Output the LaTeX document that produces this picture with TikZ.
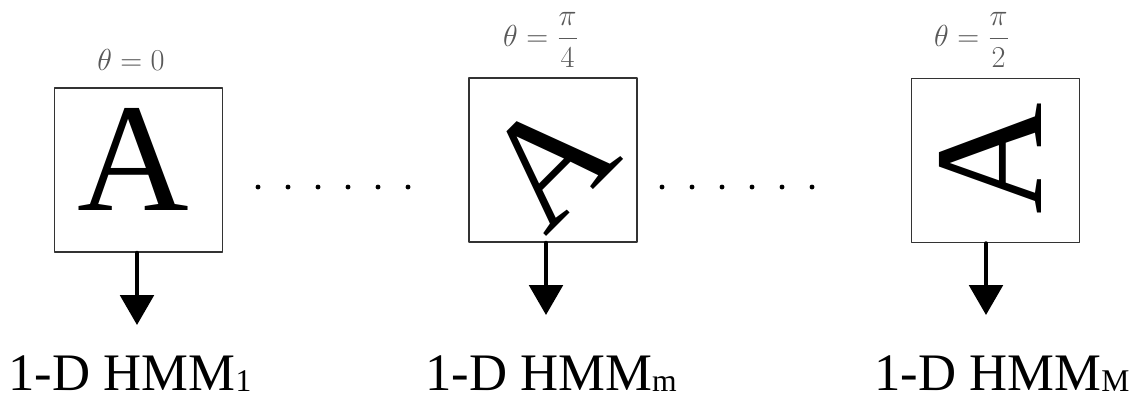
\documentclass[tikz,border=0pt]{standalone}
\usepackage{amsmath}
\usepackage{fontspec}
\setmainfont{Liberation Serif}
\usepackage{tikz}
\usetikzlibrary{arrows.meta}

\newcommand{\hmmsub}[1]{\raisebox{-1pt}{\fontsize{18}{18}\selectfont #1}}

\begin{document}
\begin{tikzpicture}[
		x=0.02cm,
		y=-0.02cm,
		line cap=round,
		line join=round,
		>=Triangle,
		frame/.style={draw=black!80, line width=0.9pt, inner sep=0pt,
			minimum width=3.36cm, minimum height=3.28cm},
		glyph/.style={inner sep=0pt, font=\fontsize{88}{90}\selectfont},
		angle/.style={inner sep=0pt, text=black!65, font=\fontsize{16}{18}\selectfont},
		hmm/.style={anchor=base, inner sep=0pt, font=\fontsize{30}{32}\selectfont},
		down/.style={-{Triangle[length=17pt,width=19pt]}, line width=2.3pt}
		]
		
		%------------------------------------------------------------------
		% Canvas
		%------------------------------------------------------------------
		\path[use as bounding box, fill=white] (0,0) rectangle (1133,400);
		
		%------------------------------------------------------------------
		% Coordinates
		%------------------------------------------------------------------
		\coordinate (tip1) at ( 137, 325);
		\coordinate (tip2) at ( 546, 315);
		\coordinate (tip3) at ( 986, 315);
		
		%------------------------------------------------------------------
		% Frames with the rotated letter
		%------------------------------------------------------------------
		\node[frame] (box1) at (138.5, 170) {};
		\node[frame] (box2) at (553,   160) {};
		\node[frame] (box3) at (995.5, 160.5) {};
		
		\node[glyph]            (let1) at (133, 159) {A};
		\node[glyph, rotate=45] (let2) at (549, 162) {A};
		\node[glyph, rotate=90] (let3) at (990, 159) {A};
		
		%------------------------------------------------------------------
		% Rotation angles
		%------------------------------------------------------------------
		\node[angle] (ang1) at (131, 60) {$\theta=0$};
		\node[angle] (ang2) at (541, 40) {$\theta=\dfrac{\pi}{4}$};
		\node[angle] (ang3) at (972, 40) {$\theta=\dfrac{\pi}{2}$};
		
		%------------------------------------------------------------------
		% Dots between the frames
		%------------------------------------------------------------------
		\foreach \x in {258,288,...,408}
		\fill (\x,187) circle[radius=1.4pt];
		\foreach \x in {662,692,...,812}
		\fill (\x,187) circle[radius=1.4pt];
		
		%------------------------------------------------------------------
		% Arrows down to the models
		%------------------------------------------------------------------
		\draw[down] (box1.south -| tip1) -- (tip1);
		\draw[down] (box2.south -| tip2) -- (tip2);
		\draw[down] (box3.south -| tip3) -- (tip3);
		
		%------------------------------------------------------------------
		% Labels
		%------------------------------------------------------------------
		\node[hmm] (hmm1) at ( 130, 390) {1-D HMM\hmmsub{1}};
		\node[hmm] (hmm2) at ( 551, 390) {1-D HMM\hmmsub{m}};
		\node[hmm] (hmm3) at (1002, 390) {1-D HMM\hmmsub{M}};
		
	\end{tikzpicture}
\end{document}
